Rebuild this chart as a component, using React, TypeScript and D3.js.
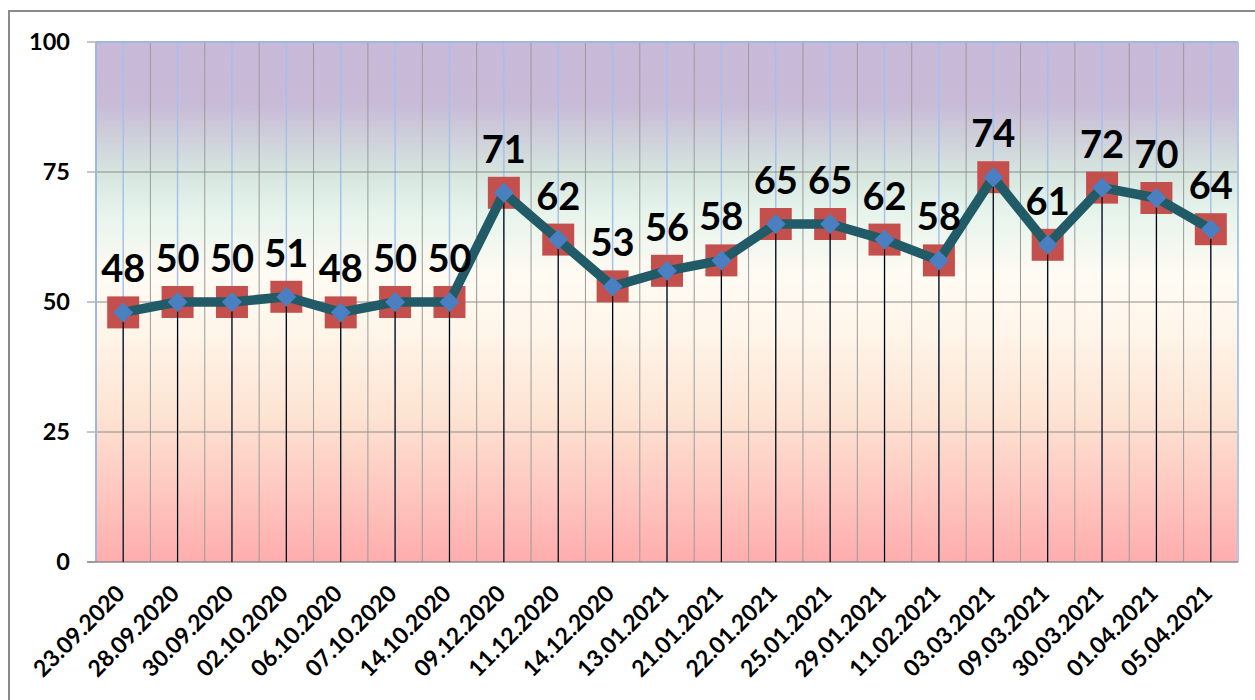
import React, { useEffect, useRef } from "react";
import * as d3 from "d3";

const categories: string[] = [
  "23.09.2020", "28.09.2020", "30.09.2020", "02.10.2020", "06.10.2020", "07.10.2020", "14.10.2020",
  "09.12.2020", "11.12.2020", "14.12.2020", "13.01.2021", "21.01.2021", "22.01.2021", "25.01.2021",
  "29.01.2021", "11.02.2021", "03.03.2021", "09.03.2021", "30.03.2021", "01.04.2021", "05.04.2021",
];
const values: number[] = [48, 50, 50, 51, 48, 50, 50, 71, 62, 53, 56, 58, 65, 65, 62, 58, 74, 61, 72, 70, 64];
const yTicks: number[] = [0, 25, 50, 75, 100];

const W = 1255;
const H = 700;
const FONT = "Lato, 'Open Sans', sans-serif";

export default function App() {
  const ref = useRef<SVGSVGElement | null>(null);

  useEffect(() => {
    document.body.style.margin = "0";
    const svg = d3.select(ref.current);
    svg.selectAll("*").remove();

    const left = 96, right = 1238, top = 42, bottom = 562;
    const x = d3.scaleBand<string>().domain(categories).range([left, right]).padding(0);
    const bw = x.bandwidth();
    const cx = (c: string) => (x(c) as number) + bw / 2;
    const y = d3.scaleLinear().domain([0, 100]).range([bottom, top]);

    // frame
    svg.append("rect").attr("x", 9).attr("y", 11).attr("width", W + 20).attr("height", H + 20)
      .attr("fill", "#fff").attr("stroke", "#8a8a8a").attr("stroke-width", 2);

    // gradient
    const defs = svg.append("defs");
    const g = defs.append("linearGradient").attr("id", "bg").attr("x1", 0).attr("y1", 0).attr("x2", 0).attr("y2", 1);
    const stops: [number, string][] = [
      [0, "#C8B9D8"], [0.12, "#C8BBD7"], [0.25, "#D5E5DE"], [0.33, "#E6F4EC"], [0.45, "#FFFBF3"],
      [0.56, "#FEF5E9"], [0.72, "#FDE3D2"], [1, "#FFADAD"],
    ];
    stops.forEach(([o, c]) => g.append("stop").attr("offset", o).attr("stop-color", c));
    svg.append("rect").attr("x", left).attr("y", top).attr("width", right - left).attr("height", bottom - top)
      .attr("fill", "url(#bg)");

    // vertical gray gridlines at boundaries
    categories.slice(1).forEach((c) => {
      svg.append("line").attr("x1", x(c) as number).attr("x2", x(c) as number).attr("y1", top).attr("y2", bottom)
        .attr("stroke", "#9a9a9a").attr("stroke-width", 1);
    });
    // blue lines at centres
    categories.forEach((c) => {
      svg.append("line").attr("x1", cx(c)).attr("x2", cx(c)).attr("y1", top).attr("y2", bottom)
        .attr("stroke", "#A7C0EA").attr("stroke-width", 1.5);
    });
    // horizontal gridlines + ticks
    yTicks.forEach((t) => {
      if (t > 0 && t < 100) {
        svg.append("line").attr("x1", left).attr("x2", right).attr("y1", y(t)).attr("y2", y(t))
          .attr("stroke", "#8c8c8c").attr("stroke-width", 1);
      }
      svg.append("line").attr("x1", 87).attr("x2", left).attr("y1", y(t)).attr("y2", y(t))
        .attr("stroke", "#8c8c8c").attr("stroke-width", 1);
      svg.append("text").attr("x", 70).attr("y", y(t)).attr("dy", "0.36em").attr("text-anchor", "end")
        .attr("font-family", FONT).attr("font-weight", 700).attr("font-size", 23.5).attr("fill", "#000")
        .text(String(t));
    });
    // plot borders
    svg.append("line").attr("x1", left).attr("x2", right).attr("y1", top).attr("y2", top)
      .attr("stroke", "#9DB7E2").attr("stroke-width", 2);
    svg.append("line").attr("x1", left).attr("x2", left).attr("y1", top).attr("y2", bottom)
      .attr("stroke", "#9DB7E2").attr("stroke-width", 2);
    svg.append("line").attr("x1", right).attr("x2", right).attr("y1", top).attr("y2", bottom)
      .attr("stroke", "#AFC6EC").attr("stroke-width", 2);
    svg.append("line").attr("x1", 87).attr("x2", right).attr("y1", bottom).attr("y2", bottom)
      .attr("stroke", "#8c8c8c").attr("stroke-width", 1.5);

    // red squares
    const sq = 32;
    categories.forEach((c, i) => {
      svg.append("rect").attr("x", cx(c) - sq / 2).attr("y", y(values[i]) - sq / 2)
        .attr("width", sq).attr("height", sq).attr("fill", "#C4504D");
    });
    // drop lines
    categories.forEach((c, i) => {
      svg.append("line").attr("x1", cx(c)).attr("x2", cx(c)).attr("y1", y(values[i])).attr("y2", bottom)
        .attr("stroke", "#000").attr("stroke-width", 1.2);
    });
    // line
    const line = d3.line<number>().x((_, i) => cx(categories[i])).y((d) => y(d));
    svg.append("path").attr("d", line(values) as string).attr("fill", "none")
      .attr("stroke", "#215B68").attr("stroke-width", 9.5).attr("stroke-linejoin", "round");
    // diamonds
    const dm = 10;
    categories.forEach((c, i) => {
      const px = cx(c), py = y(values[i]);
      svg.append("path")
        .attr("d", `M${px},${py - dm}L${px + dm},${py}L${px},${py + dm}L${px - dm},${py}Z`)
        .attr("fill", "#4A7FC1");
    });
    // data labels
    categories.forEach((c, i) => {
      svg.append("text").attr("x", cx(c)).attr("y", y(values[i]) - 30).attr("text-anchor", "middle")
        .attr("font-family", FONT).attr("font-weight", 700).attr("font-size", 38).attr("fill", "#000")
        .text(String(values[i]));
    });
    // x labels
    categories.forEach((c) => {
      svg.append("text").attr("transform", `translate(${cx(c) + 3},${bottom + 33}) rotate(-45)`)
        .attr("text-anchor", "end")
        .attr("font-family", FONT).attr("font-weight", 700).attr("font-size", 23).attr("fill", "#000")
        .text(c);
    });
  }, []);

  return <svg ref={ref} width={W} height={H} style={{ display: "block" }} />;
}
